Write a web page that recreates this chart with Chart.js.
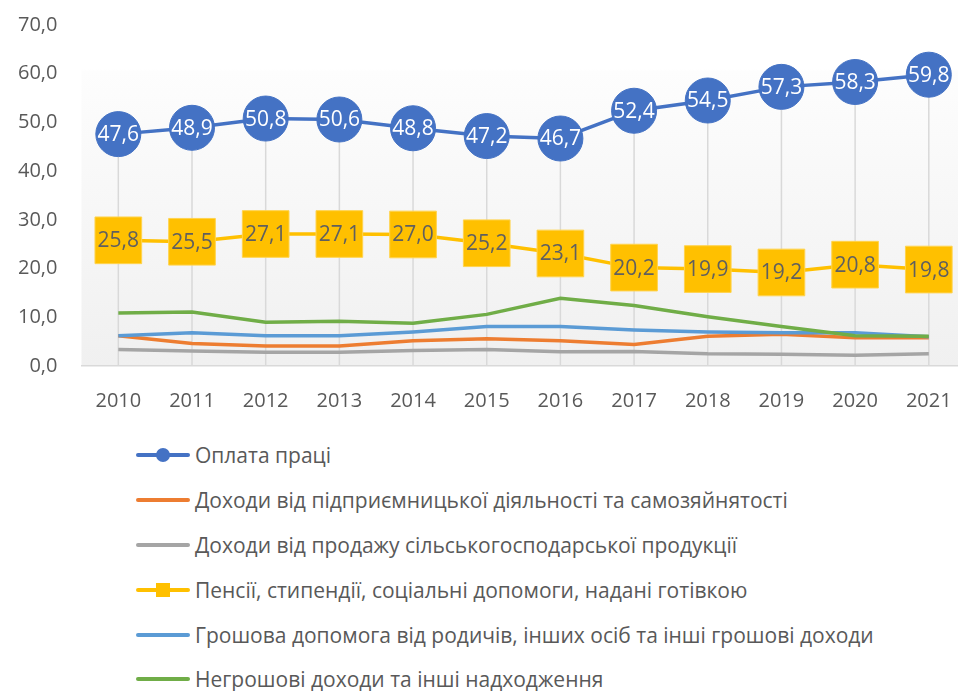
<!DOCTYPE html>
<html>
<head>
<meta charset="utf-8">
<script src="https://cdn.jsdelivr.net/npm/chart.js@4/dist/chart.umd.min.js"></script>
<style>
    html, body { margin: 0; padding: 0; background: #fff; overflow: hidden; }
    body { width: 958px; height: 691px; position: relative; font-family: "Open Sans", sans-serif; }
    #wrap { position: absolute; left: 0; top: -11px; width: 975px; height: 425px; }
    #legend { position: absolute; left: 136px; top: 433px; }
    .item { display: flex; align-items: center; height: 44.8px; color: #595959; font-size: 21px; white-space: nowrap; }
    .swatch { position: relative; width: 54px; height: 4px; border-radius: 2px; margin-right: 5px; }
    .mark { position: absolute; left: 50%; top: 50%; transform: translate(-50%, -50%); }
</style>
</head>
<body>
<div id="wrap"><canvas id="chart"></canvas></div>
<div id="legend"></div>
<script>
const years = ["2010", "2011", "2012", "2013", "2014", "2015", "2016", "2017", "2018", "2019", "2020", "2021"];
const wages = [47.6, 48.9, 50.8, 50.6, 48.8, 47.2, 46.7, 52.4, 54.5, 57.3, 58.3, 59.8];
const business = [6.2, 4.6, 4.1, 4.1, 5.2, 5.6, 5.2, 4.4, 6.1, 6.5, 5.8, 5.8];
const farmSales = [3.4, 3.1, 2.8, 2.8, 3.2, 3.4, 2.9, 3.0, 2.5, 2.4, 2.2, 2.5];
const pensions = [25.8, 25.5, 27.1, 27.1, 27.0, 25.2, 23.1, 20.2, 19.9, 19.2, 20.8, 19.8];
const relatives = [6.2, 6.8, 6.2, 6.2, 7.0, 8.1, 8.1, 7.4, 7.0, 6.8, 6.8, 6.0];
const nonMoney = [10.9, 11.1, 9.0, 9.2, 8.8, 10.6, 13.9, 12.4, 10.1, 8.1, 6.2, 6.1];

const seriesNames = [
    "Оплата праці",
    "Доходи від підприємницької діяльності та самозяйнятості",
    "Доходи від продажу сільськогосподарської продукції",
    "Пенсії, стипендії, соціальні допомоги, надані готівкою",
    "Грошова допомога від родичів, інших осіб та інші грошові доходи",
    "Негрошові доходи та інші надходження",
];
const seriesValues = [wages, business, farmSales, pensions, relatives, nonMoney];
const seriesColors = ["#4472C4", "#ED7D31", "#A5A5A5", "#FFC000", "#5B9BD5", "#70AD47"];

const FONT = "'Open Sans', sans-serif";
const fmt = (v) => v.toFixed(1).replace(".", ",");

const datasets = seriesNames.map((name, i) => {
    const ds = {
        label: name,
        data: seriesValues[i],
        borderColor: seriesColors[i],
        backgroundColor: seriesColors[i],
        borderWidth: 3.5,
        pointRadius: 0,
        tension: 0,
        order: seriesNames.length - i,
    };
    if (i === 0) {
        ds.pointRadius = 22.5;
        ds.pointBorderWidth = 1;
        ds.pointStyle = "circle";
        ds.labelColor = "#ffffff";
    }
    if (i === 3) {
        ds.pointRadius = 33;
        ds.pointBorderWidth = 1;
        ds.pointBorderColor = "#FFD34D";
        ds.pointStyle = "rect";
        ds.labelColor = "#5f5f5f";
    }
    return ds;
});

// plot area fill, white at top fading to light grey
const plotBackground = {
    id: "plotBackground",
    beforeDraw(chart) {
        const { ctx, chartArea: a } = chart;
        const g = ctx.createLinearGradient(0, a.top, 0, a.bottom);
        g.addColorStop(0, "#ffffff");
        g.addColorStop(0.13, "#ffffff");
        g.addColorStop(0.135, "#fdfdfd");
        g.addColorStop(1, "#f0f0f0");
        ctx.save();
        ctx.fillStyle = g;
        ctx.fillRect(a.left, a.top, a.right - a.left, a.bottom - a.top);
        ctx.restore();
    },
};

// drop lines from the top series down to the category axis
const dropLines = {
    id: "dropLines",
    beforeDatasetsDraw(chart) {
        const { ctx, chartArea: a } = chart;
        const meta = chart.getDatasetMeta(0);
        ctx.save();
        ctx.strokeStyle = "#d9d9d9";
        ctx.lineWidth = 1.5;
        meta.data.forEach((pt) => {
            ctx.beginPath();
            ctx.moveTo(pt.x, pt.y);
            ctx.lineTo(pt.x, a.bottom);
            ctx.stroke();
        });
        ctx.restore();
    },
};

// values written inside the big markers
const markerLabels = {
    id: "markerLabels",
    afterDatasetsDraw(chart) {
        const { ctx } = chart;
        ctx.save();
        ctx.font = `21px ${FONT}`;
        ctx.textAlign = "center";
        ctx.textBaseline = "middle";
        chart.data.datasets.forEach((ds, i) => {
            if (!ds.labelColor) return;
            ctx.fillStyle = ds.labelColor;
            chart.getDatasetMeta(i).data.forEach((pt, j) => {
                ctx.fillText(fmt(ds.data[j]), pt.x, pt.y + 1);
            });
        });
        ctx.restore();
    },
};

const chart = new Chart(document.getElementById("chart"), {
    type: "line",
    data: { labels: years, datasets: datasets },
    options: {
        responsive: true,
        maintainAspectRatio: false,
        animation: false,
        layout: { autoPadding: false, padding: { left: -6, right: 8, top: 12, bottom: -22 } },
        plugins: { legend: { display: false }, tooltip: { enabled: false } },
        scales: {
            x: {
                offset: true,
                grid: { display: false, drawTicks: false },
                border: { display: true, color: "#d9d9d9", width: 1.5 },
                ticks: { color: "#595959", font: { family: FONT, size: 20 }, padding: 23 },
            },
            y: {
                min: 0,
                max: 70,
                grid: { display: false, drawTicks: false },
                border: { display: false },
                ticks: {
                    stepSize: 10,
                    color: "#595959",
                    font: { family: FONT, size: 20 },
                    padding: 24,
                    callback: (v) => fmt(v),
                },
            },
        },
    },
    plugins: [plotBackground, dropLines, markerLabels],
});

// one-column legend under the chart
const legend = document.getElementById("legend");
chart.data.datasets.forEach((ds) => {
    const item = document.createElement("div");
    item.className = "item";
    const swatch = document.createElement("span");
    swatch.className = "swatch";
    swatch.style.background = ds.borderColor;
    if (ds.pointStyle === "circle" || ds.pointStyle === "rect") {
        const mark = document.createElement("span");
        mark.className = "mark";
        mark.style.background = ds.borderColor;
        mark.style.width = "14px";
        mark.style.height = "14px";
        if (ds.pointStyle === "circle") mark.style.borderRadius = "50%";
        swatch.appendChild(mark);
    }
    item.appendChild(swatch);
    item.appendChild(document.createTextNode(ds.label));
    legend.appendChild(item);
});
</script>
</body>
</html>
